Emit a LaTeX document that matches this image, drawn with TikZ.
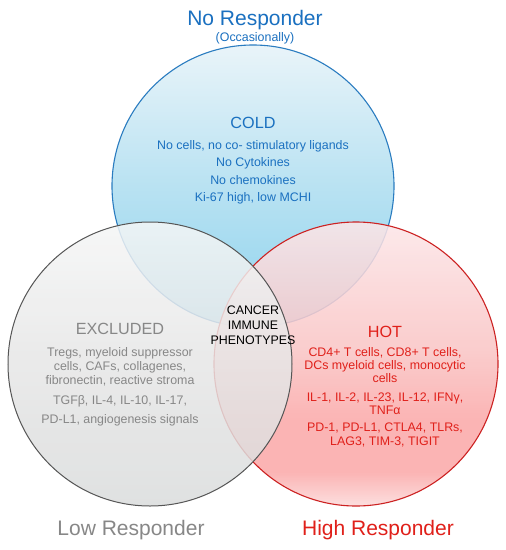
\documentclass[tikz,border=0pt]{standalone}
\usepackage{fontspec}
\setmainfont{Liberation Sans}
\definecolor{bluetext}{HTML}{1A70C0}
\definecolor{graytext}{HTML}{878787}
\definecolor{redtext}{HTML}{E0201A}
\definecolor{blueline}{HTML}{2A7CC0}
\definecolor{grayline}{HTML}{555555}
\definecolor{redline}{HTML}{CC2222}
\definecolor{bA}{HTML}{E9F4F9}
\definecolor{bB}{HTML}{B9E2F2}
\definecolor{bC}{HTML}{8ED3EE}
\definecolor{rA}{HTML}{FCE6E8}
\definecolor{rB}{HTML}{FAC4C4}
\definecolor{rC}{HTML}{FBA8A8}
\definecolor{rD}{HTML}{FCDADA}
\definecolor{gA}{HTML}{F5F6F6}
\definecolor{gB}{HTML}{E6E6E6}
\definecolor{gC}{HTML}{DADCDC}
\pgfdeclareverticalshading{blueshade}{100bp}{color(0bp)=(bC); color(25bp)=(bC); color(50bp)=(bB); color(75bp)=(bA); color(100bp)=(bA)}
\pgfdeclareverticalshading{redshade}{100bp}{color(0bp)=(rD); color(25bp)=(rD); color(31bp)=(rC); color(40bp)=(rC); color(52bp)=(rB); color(75bp)=(rA); color(100bp)=(rA)}
\pgfdeclareverticalshading{grayshade}{100bp}{color(0bp)=(gC); color(25bp)=(gC); color(50bp)=(gB); color(75bp)=(gA); color(100bp)=(gA)}
\begin{document}
\begin{tikzpicture}[x=1pt,y=-1pt,
  body/.style={anchor=base, inner sep=0pt, font=\fontsize{12.4}{13}\selectfont},
  head/.style={anchor=base, inner sep=0pt, font=\fontsize{16.2}{18}\selectfont},
  big/.style={anchor=base, inner sep=0pt, font=\fontsize{21}{24}\selectfont}]
\useasboundingbox (0,0) rectangle (506,550);
\fill[white] (0,0) rectangle (506,550);
% circles
\coordinate (ctop) at (253,186);
\coordinate (cleft) at (150,364);
\coordinate (cright) at (356,364);
\shade[shading=blueshade] (ctop) circle[radius=141pt];
\draw[blueline, line width=1.1pt] (ctop) circle[radius=141pt];
\shade[shading=redshade, fill opacity=0.86] (cright) circle[radius=142pt];
\draw[redline, line width=1.1pt] (cright) circle[radius=142pt];
\shade[shading=grayshade, fill opacity=0.84] (cleft) circle[radius=142pt];
\draw[grayline, line width=1pt] (cleft) circle[radius=142pt];
% titles
\node[big, text=bluetext] (tnr) at (255,25) {No Responder};
\node[body, text=bluetext] (tocc) at (255,41) {(Occasionally)};
\node[big, text=graytext] (tlow) at (131,535) {Low Responder};
\node[big, text=redtext] (thigh) at (378,535) {High Responder};
% cold
\node[head, text=bluetext] (cold) at (253,128) {COLD};
\foreach \t/\y [count=\k] in {{No cells, no co- stimulatory ligands}/149, {No Cytokines}/166.5, {No chemokines}/184, {Ki-67 high, low MCHI}/201.5}
  \node[body, text=bluetext] (cold\k) at (253,\y) {\t};
% excluded
\node[head, text=graytext] (excl) at (120,334) {EXCLUDED};
\foreach \t/\y [count=\k] in {{Tregs, myeloid suppressor}/356.7, {cells, CAFs, collagenes,}/370.3, {fibronectin, reactive stroma}/384.3, {TGFβ, IL-4, IL-10, IL-17,}/404, {PD-L1, angiogenesis signals}/423.3}
  \node[body, text=graytext] (excl\k) at (120,\y) {\t};
% hot
\node[head, text=redtext] (hot) at (385,337) {HOT};
\foreach \t/\y [count=\k] in {{CD4+ T cells, CD8+ T cells,}/356.7, {DCs myeloid cells, monocytic}/369.5, {cells}/382.7, {IL-1, IL-2, IL-23, IL-12, IFNγ,}/401, {TNFα}/414, {PD-1, PD-L1, CTLA4, TLRs,}/431, {LAG3, TIM-3, TIGIT}/445}
  \node[body, text=redtext] (hot\k) at (385,\y) {\t};
% center
\foreach \t/\y [count=\k] in {CANCER/314, IMMUNE/329, PHENOTYPES/344}
  \node[body, text=black] (cen\k) at (253,\y) {\t};
\end{tikzpicture}
\end{document}
